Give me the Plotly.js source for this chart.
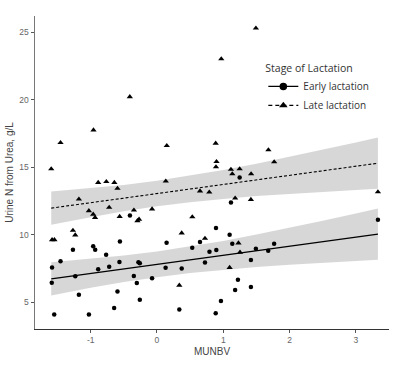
<!DOCTYPE html>
<html>
<head>
<meta charset="utf-8">
<script src="https://cdn.plot.ly/plotly-3.0.1.min.js"></script>
<style>html,body{margin:0;padding:0;background:#fff;}#chart{width:395px;height:367px;}</style>
</head>
<body>
<div id="chart"></div>
<script>
// Early lactation observations (MUNBV, urine N from urea g/L)
var earlyX = [-0.408, 1.247, 1.116, 3.333, 0.890, 1.096, -1.268, -0.962, -0.932, -0.559, 0.145, 0.532, 0.649, 1.136, 1.767, 0.792, 0.895, 1.492, 1.678, -1.455, -1.583, -0.767, -0.887, -0.721, -0.566, -0.280, -0.259, 0.130, 0.373, 0.724, 1.417, -1.233, -0.349, -0.304, -0.074, -1.587, -1.178, -0.596, -0.259, 0.337, -0.646, -1.550, -1.027, 0.965, 0.886, 1.221, 1.179, 1.417];
var earlyY = [11.41, 14.23, 12.38, 11.09, 10.48, 9.98, 8.87, 9.13, 8.88, 9.48, 9.39, 9.02, 9.45, 9.31, 9.31, 8.72, 8.85, 8.94, 8.80, 8.02, 7.56, 8.50, 7.43, 7.61, 7.96, 7.94, 7.87, 7.54, 7.49, 7.93, 8.11, 6.91, 6.93, 6.41, 6.76, 6.43, 5.54, 5.78, 5.17, 4.45, 4.56, 4.08, 4.08, 5.07, 4.16, 6.65, 5.89, 6.11];
// Late lactation observations
var lateX = [-1.595, -1.455, -0.958, -0.410, 0.148, 1.492, 0.970, 0.886, 1.681, 1.768, 0.898, 0.890, 1.116, 1.247, 1.136, 1.420, -0.887, -0.764, -0.643, -0.596, 0.133, -1.178, 0.649, 0.789, 1.179, 1.417, 3.333, -0.721, -1.027, -0.962, -0.934, -0.563, -0.348, -0.295, -0.270, -0.074, 0.533, -1.268, -1.233, -1.583, -1.547, 0.373, 0.724, 1.229, 1.252, 1.096, 0.337];
var lateY = [14.86, 16.81, 17.75, 20.21, 16.59, 25.30, 23.02, 16.76, 16.27, 15.38, 15.40, 15.01, 14.83, 14.86, 14.49, 14.49, 13.85, 13.92, 13.85, 13.42, 13.96, 12.62, 13.22, 13.14, 12.70, 12.59, 13.16, 12.01, 11.76, 11.50, 11.26, 11.33, 11.81, 11.02, 11.13, 11.89, 11.31, 10.31, 9.96, 9.61, 9.61, 10.11, 9.71, 9.37, 8.68, 7.55, 6.24];

// Fitted lines and 95% confidence bands
var fitX    = [-1.595, -1, -0.5, 0, 0.5, 1, 1.5, 2, 2.5, 3, 3.333];
var earlyFit = [6.72, 7.12, 7.46, 7.79, 8.13, 8.46, 8.80, 9.13, 9.47, 9.81, 10.03];
var earlyLo  = [5.49, 6.05, 6.48, 6.84, 7.15, 7.39, 7.60, 7.76, 7.91, 8.05, 8.13];
var earlyHi  = [7.95, 8.19, 8.44, 8.74, 9.11, 9.53, 10.00, 10.50, 11.03, 11.57, 11.93];
var lateFit  = [11.96, 12.36, 12.70, 13.04, 13.38, 13.71, 14.05, 14.39, 14.73, 15.07, 15.29];
var lateLo   = [10.73, 11.29, 11.72, 12.09, 12.40, 12.64, 12.85, 13.02, 13.17, 13.31, 13.39];
var lateHi   = [13.19, 13.43, 13.68, 13.99, 14.36, 14.78, 15.25, 15.76, 16.29, 16.83, 17.19];

var seriesNames = ['Early lactation', 'Late lactation'];
var xTicks = [-1, 0, 1, 2, 3];
var yTicks = [5, 10, 15, 20, 25];

function band(lo, hi) {
  return {
    x: fitX.concat(fitX.slice().reverse()),
    y: hi.concat(lo.slice().reverse()),
    type: 'scatter', mode: 'lines', fill: 'toself',
    fillcolor: 'rgba(150,150,150,0.38)', line: {width: 0},
    hoverinfo: 'skip', showlegend: false
  };
}

var traces = [
  band(earlyLo, earlyHi),
  band(lateLo, lateHi),
  {x: fitX, y: earlyFit, type: 'scatter', mode: 'lines', line: {color: '#000', width: 1.2}, showlegend: false},
  {x: fitX, y: lateFit, type: 'scatter', mode: 'lines', line: {color: '#000', width: 1.1, dash: '3px,2px'}, showlegend: false},
  {x: earlyX, y: earlyY, type: 'scatter', mode: 'markers', marker: {symbol: 'circle', size: 4.5, color: '#000'}, showlegend: false},
  {x: lateX, y: lateY, type: 'scatter', mode: 'markers', marker: {symbol: 'triangle-up', size: 5.5, color: '#000'}, showlegend: false},
  {x: [null], y: [null], type: 'scatter', mode: 'lines+markers', name: seriesNames[0],
   line: {color: '#000', width: 1.2}, marker: {symbol: 'circle', size: 7.5, color: '#000'}},
  {x: [null], y: [null], type: 'scatter', mode: 'lines+markers', name: seriesNames[1],
   line: {color: '#000', width: 1.2, dash: '4px,3px'}, marker: {symbol: 'triangle-up', size: 7.5, color: '#000'}}
];

var layout = {
  width: 395, height: 367,
  margin: {l: 35, r: 6, t: 16, b: 38},
  paper_bgcolor: '#fff', plot_bgcolor: '#fff',
  font: {family: 'Liberation Sans, Arial, sans-serif', color: '#444'},
  showlegend: true,
  legend: {
    x: 0.645, y: 0.865, xanchor: 'left', yanchor: 'top',
    bgcolor: 'rgba(0,0,0,0)',
    font: {family: 'Open Sans, sans-serif', size: 10, color: '#333'},
    title: {text: 'Stage of Lactation', font: {family: 'Open Sans, sans-serif', size: 10.5, color: '#333'}},
    itemwidth: 30, tracegroupgap: 0
  },
  xaxis: {
    range: [-1.84, 3.5], tickvals: xTicks, ticktext: xTicks.map(String),
    showgrid: false, zeroline: false,
    showline: true, linecolor: '#333', linewidth: 1.2,
    ticks: 'outside', ticklen: 3, tickcolor: '#555', tickwidth: 1,
    tickfont: {size: 8.5, color: '#666'},
    title: {text: 'MUNBV', font: {size: 10, color: '#444'}, standoff: 3}
  },
  yaxis: {
    range: [3.0, 26.2], tickvals: yTicks, ticktext: yTicks.map(String),
    showgrid: false, zeroline: false,
    showline: true, linecolor: '#777', linewidth: 1.5,
    ticks: 'outside', ticklen: 3, tickcolor: '#555', tickwidth: 1,
    tickfont: {size: 8.5, color: '#666'},
    title: {text: 'Urine N from Urea, g/L', font: {size: 10, color: '#444'}, standoff: 4}
  }
};

Plotly.newPlot('chart', traces, layout, {displayModeBar: false, staticPlot: true});
</script>
</body>
</html>
